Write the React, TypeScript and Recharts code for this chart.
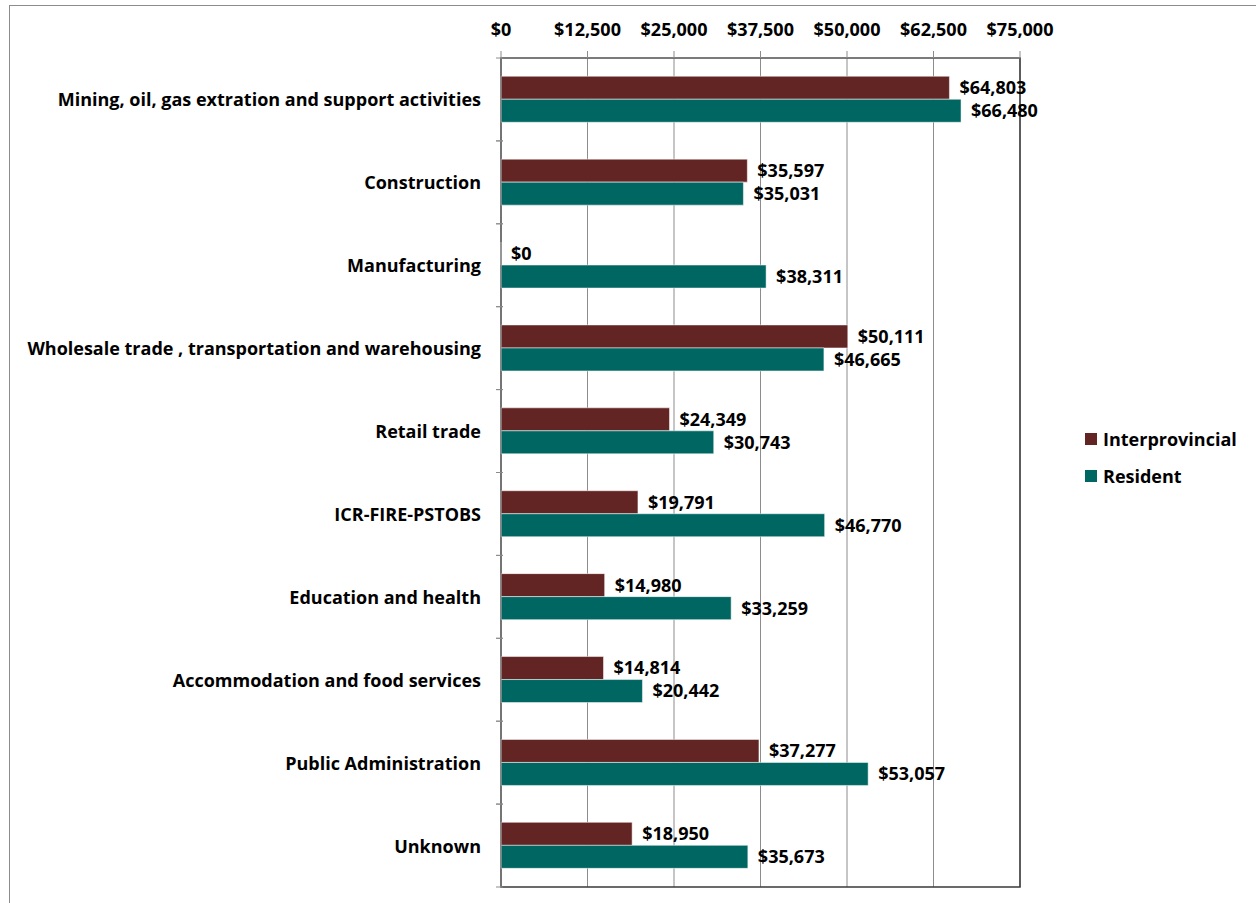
import { BarChart, Bar, XAxis, YAxis, CartesianGrid, LabelList, ReferenceArea } from "recharts";

const FONT = "'Open Sans', 'Liberation Sans', sans-serif";
const RED = "#632523";
const TEAL = "#006662";

const categories = [
  "Mining, oil, gas extration and support activities",
  "Construction",
  "Manufacturing",
  "Wholesale trade , transportation and warehousing",
  "Retail trade",
  "ICR-FIRE-PSTOBS",
  "Education and health",
  "Accommodation and food services",
  "Public Administration",
  "Unknown",
];
const interprovincial = [64803, 35597, 0, 50111, 24349, 19791, 14980, 14814, 37277, 18950];
const resident = [66480, 35031, 38311, 46665, 30743, 46770, 33259, 20442, 53057, 35673];
const xTicks = [0, 12500, 25000, 37500, 50000, 62500, 75000];

const data = categories.map((name, i) => ({ name, interprovincial: interprovincial[i], resident: resident[i] }));

const money = (v: number) => `$${Number(v).toLocaleString("en-US")}`;

const CHART_H = 897;
const MARGIN = { top: 0, right: 234, bottom: 16, left: 0 };
const X_AXIS_H = 52;
const BAND = (CHART_H - MARGIN.top - MARGIN.bottom - X_AXIS_H) / categories.length;
const TEXT = { fontFamily: FONT, fontWeight: 700, fontSize: 18, fill: "#000" };

function CategoryTick(props: any) {
  const { x, y, payload } = props;
  return (
    <g>
      <line x1={x + 3} x2={x + 10} y1={y + BAND / 2} y2={y + BAND / 2} stroke="#8c8c8c" />
      <line x1={x + 3} x2={x + 10} y1={y - BAND / 2} y2={y - BAND / 2} stroke="#8c8c8c" />
      <text x={x - 12} y={y} textAnchor="end" dominantBaseline="central" {...TEXT}>
        {payload.value}
      </text>
    </g>
  );
}

function LegendBox() {
  const items = [
    { label: "Interprovincial", color: RED },
    { label: "Resident", color: TEAL },
  ];
  return (
    <div style={{ position: "absolute", left: 1075, top: 414, fontFamily: FONT, fontWeight: 700, fontSize: 18 }}>
      {items.map((it) => (
        <div key={it.label} style={{ display: "flex", alignItems: "center", height: 37 }}>
          <span style={{ width: 12, height: 12, background: it.color, marginRight: 6, display: "inline-block" }} />
          {it.label}
        </div>
      ))}
    </div>
  );
}

export default function App() {
  return (
    <div style={{ position: "absolute", left: 9, top: 5, width: 1246, height: 910, border: "1px solid #8c8c8c", background: "#fff" }}>
      <BarChart
        width={1244}
        height={CHART_H}
        data={data}
        layout="vertical"
        margin={MARGIN}
        barCategoryGap="22%"
        barGap={0}
      >
        <CartesianGrid horizontal={false} stroke="#8c8c8c" />
        <XAxis
          type="number"
          orientation="top"
          domain={[0, 75000]}
          ticks={xTicks}
          tickFormatter={money}
          height={X_AXIS_H}
          stroke="#8c8c8c"
          tickSize={7}
          tickMargin={15}
          tick={TEXT}
          interval={0}
        />
        <YAxis
          type="category"
          dataKey="name"
          width={491}
          stroke="#8c8c8c"
          tickLine={false}
          tick={<CategoryTick />}
          interval={0}
        />
        <ReferenceArea x1={0} x2={75000} fill="none" stroke="#3a3a3a" strokeWidth={1.5} />
        <Bar
          dataKey="interprovincial"
          name="Interprovincial"
          fill={RED}
          stroke="#fff"
          strokeWidth={0.5}
          minPointSize={(v: number) => (v === 0 ? 0.01 : 0)}
          isAnimationActive={false}
        >
          <LabelList dataKey="interprovincial" position="right" offset={10} formatter={money} style={TEXT} />
        </Bar>
        <Bar dataKey="resident" name="Resident" fill={TEAL} stroke="#fff" strokeWidth={0.5} isAnimationActive={false}>
          <LabelList dataKey="resident" position="right" offset={10} formatter={money} style={TEXT} />
        </Bar>
      </BarChart>
      <LegendBox />
    </div>
  );
}
